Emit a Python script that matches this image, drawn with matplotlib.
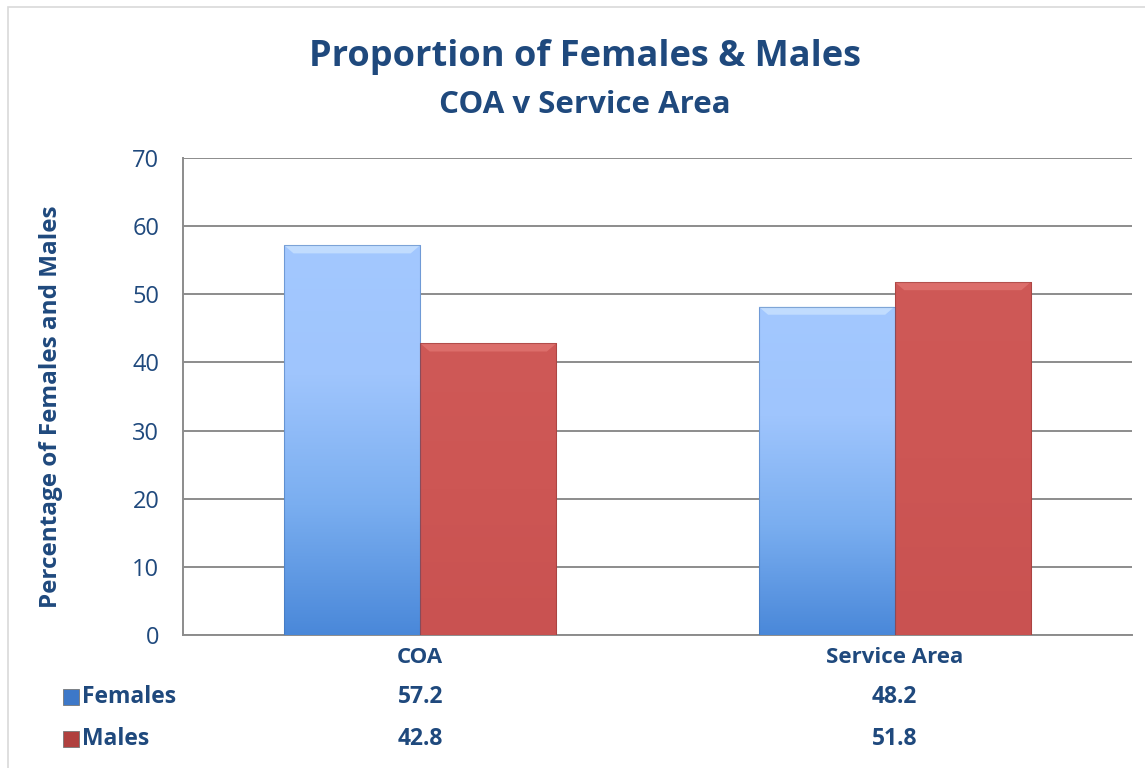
import numpy as np
import matplotlib.pyplot as plt
from matplotlib.patches import Rectangle, Polygon
from matplotlib.colors import LinearSegmentedColormap

plt.rcParams['font.family'] = ['Open Sans', 'DejaVu Sans']

categories = ["COA", "Service Area"]
series = ["Females", "Males"]
females = [57.2, 48.2]
males = [42.8, 51.8]

navy = "#1F497D"
bw = "bold"
fig = plt.figure(figsize=(11.45, 7.68), dpi=100)
ax = fig.add_axes([0.1598, 0.1732, 0.8288, 0.6211])

# outer chart frame
fig.patches.append(Rectangle((8 / 1145, -0.05), 1.2, 0.9909 + 0.05, transform=fig.transFigure,
                             fill=False, edgecolor="#d9d9d9", linewidth=1.2))

blue_cmap = LinearSegmentedColormap.from_list("b", ["#4a88d9", "#7aaef0", "#9fc5fd", "#a3c8ff"])
red_cmap = LinearSegmentedColormap.from_list("r", ["#c95251", "#cd5654", "#cf5957"])

x = np.arange(len(categories))
w = 0.287
bars_f = ax.bar(x - w / 2, females, w, color="#7aaef0", edgecolor="none", zorder=2)
bars_m = ax.bar(x + w / 2, males, w, color="#cd5553", edgecolor="none", zorder=2)

grad = np.linspace(0, 1, 256).reshape(-1, 1)
for bars, cmap, top_col, edge in [(bars_f, blue_cmap, "#d6ebff", "#3f6fb0"),
                                  (bars_m, red_cmap, "#e67e7a", "#8e3533")]:
    for b in bars:
        x0, w0, h0 = b.get_x(), b.get_width(), b.get_height()
        im = ax.imshow(grad, cmap=cmap, origin="lower", aspect="auto",
                       extent=[x0, x0 + w0, 0, h0], zorder=3)
        im.set_clip_path(b)
        bev = 1.2
        inset = w0 * 0.07
        ax.add_patch(Polygon([[x0, h0], [x0 + w0, h0], [x0 + w0 - inset, h0 - bev],
                              [x0 + inset, h0 - bev]], closed=True,
                             facecolor=top_col, edgecolor="none", alpha=0.6, zorder=4))
        ax.add_patch(Rectangle((x0, 0), w0, h0, fill=False, edgecolor=edge,
                               linewidth=0.8, alpha=0.5, zorder=5))

ax.set_xlim(-0.5, 1.5)
ax.set_ylim(0, 70)
ax.set_yticks(range(0, 71, 10))
ax.yaxis.grid(True, color="#8c8c8c", linewidth=1.4, zorder=0)
ax.set_axisbelow(True)
for s in ["top", "right"]:
    ax.spines[s].set_visible(False)
ax.spines["left"].set_color("#8c8c8c")
ax.spines["left"].set_linewidth(1.4)
ax.spines["bottom"].set_color("#8c8c8c")
ax.spines["bottom"].set_linewidth(1.4)
ax.tick_params(axis="y", length=0, pad=17, labelsize=17, labelcolor=navy)
ax.tick_params(axis="x", length=0, pad=9)
ax.set_xticks(x)
ax.set_xticklabels(categories, fontsize=16, fontweight=bw, color=navy)

ax.set_ylabel("Percentage of Females and Males", fontsize=17.5, fontweight=bw,
              color=navy, labelpad=50)
ax.yaxis.label.set_y(0.479)

fig.text(0.511, 0.926, "Proportion of Females & Males", ha="center", va="center",
         fontsize=26, fontweight=bw, color=navy)
fig.text(0.511, 0.863, "COA v Service Area", ha="center", va="center",
         fontsize=22.5, fontweight=bw, color=navy)

# data table below the axis
row_y = [1 - 697 / 768, 1 - 739 / 768]
row_cols = [("#9cc3f7", "#3d78c8"), ("#e07270", "#b0403e")]
for i, (name, vals) in enumerate([("Females", females), ("Males", males)]):
    yy = row_y[i]
    sq = Rectangle((63 / 1145, yy - 0.011), 16 / 1145, 0.022, transform=fig.transFigure,
                   facecolor=row_cols[i][1], edgecolor="#777777", linewidth=0.6)
    fig.patches.append(sq)
    fig.text(82 / 1145, yy, name, ha="left", va="center", fontsize=16.5,
             fontweight=bw, color=navy)
    for j, v in enumerate(vals):
        xf = fig.transFigure.inverted().transform(ax.transData.transform((x[j], 0)))[0]
        fig.text(xf, yy, f"{v:.1f}", ha="center", va="center", fontsize=16.5,
                 fontweight=bw, color=navy)

fig.savefig("out.png", dpi=100)
